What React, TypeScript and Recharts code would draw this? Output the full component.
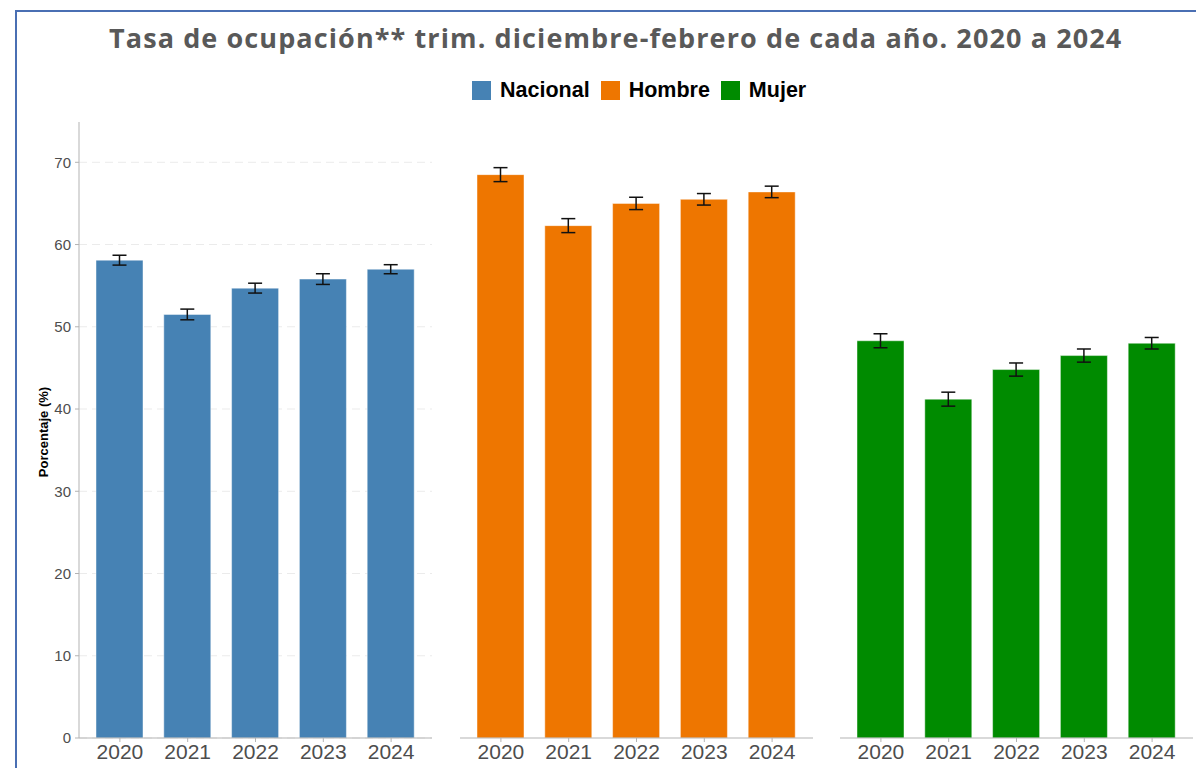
import React from "react";
import { Bar, BarChart, CartesianGrid, ErrorBar, XAxis, YAxis } from "recharts";

const years = ["2020", "2021", "2022", "2023", "2024"];
const nacional = [58.1, 51.5, 54.7, 55.8, 57.0];
const nacionalErr = [0.6, 0.65, 0.6, 0.65, 0.55];
const hombre = [68.5, 62.3, 65.0, 65.5, 66.4];
const hombreErr = [0.85, 0.85, 0.75, 0.7, 0.7];
const mujer = [48.3, 41.2, 44.8, 46.5, 48.0];
const mujerErr = [0.85, 0.85, 0.8, 0.8, 0.7];
const yTicks = [0, 10, 20, 30, 40, 50, 60, 70];

const series = [
  { name: "Nacional", color: "#4682B4", values: nacional, errs: nacionalErr },
  { name: "Hombre", color: "#EE7600", values: hombre, errs: hombreErr },
  { name: "Mujer", color: "#008B00", values: mujer, errs: mujerErr },
];

const axisFont = "'Liberation Sans', Arial, sans-serif";
const axisGray = "#b3b3b3";

function Panel({
  values,
  errs,
  color,
  showY,
  left,
  marginLeft,
  marginRight,
}: {
  values: number[];
  errs: number[];
  color: string;
  showY: boolean;
  left: number;
  marginLeft: number;
  marginRight: number;
}) {
  const data = years.map((year, i) => ({ year, value: values[i], err: errs[i] }));
  const yWidth = showY ? 79 : 0;
  return (
    <div style={{ position: "absolute", left, top: 110 }}>
      <BarChart
        width={marginLeft + yWidth + 353 + marginRight}
        height={658}
        data={data}
        margin={{ top: 12, right: marginRight, bottom: 0, left: marginLeft }}
        barSize={47}
      >
        <CartesianGrid vertical={false} syncWithTicks stroke="#ebebeb" strokeDasharray="8 5" />
        <XAxis
          dataKey="year"
          height={30}
          padding={{ left: 7, right: 7 }}
          tick={{ fontSize: 21, fill: "#4d4d4d", fontFamily: axisFont }}
          tickSize={4}
          tickMargin={2}
          tickLine={{ stroke: axisGray }}
          axisLine={{ stroke: axisGray }}
        />
        <YAxis
          width={yWidth}
          domain={[0, 74.9]}
          ticks={yTicks}
          interval={0}
          tick={showY ? { fontSize: 15, fill: "#4d4d4d", fontFamily: axisFont } : false}
          tickSize={4}
          tickMargin={4}
          tickLine={showY ? { stroke: axisGray } : false}
          axisLine={showY ? { stroke: axisGray } : false}
        />
        <Bar dataKey="value" fill={color} stroke="#ffffff" strokeOpacity={0.45} strokeWidth={1} isAnimationActive={false}>
          <ErrorBar dataKey="err" width={7} stroke="#111111" strokeWidth={1.5} direction="y" isAnimationActive={false} />
        </Bar>
      </BarChart>
    </div>
  );
}

export default function App() {
  return (
    <div
      style={{
        position: "absolute",
        left: 0,
        top: 0,
        width: 1196,
        height: 768,
        background: "#ffffff",
        overflow: "hidden",
      }}
    >
      <div
        style={{
          position: "absolute",
          left: 15,
          top: 10,
          width: 1300,
          height: 900,
          borderTop: "2px solid #4a6fb3",
          borderLeft: "2px solid #4a6fb3",
        }}
      />
      <div
        style={{
          position: "absolute",
          left: 109,
          top: 19,
          whiteSpace: "nowrap",
          fontFamily: "'Open Sans', sans-serif",
          fontWeight: 700,
          fontSize: 27,
          letterSpacing: 1.1,
          color: "#595959",
          lineHeight: "38px",
        }}
      >
        Tasa de ocupación** trim. diciembre-febrero de cada año. 2020 a 2024
      </div>
      <div
        style={{
          position: "absolute",
          left: 472,
          top: 78,
          display: "flex",
          alignItems: "center",
          fontFamily: axisFont,
          fontWeight: 700,
          fontSize: 21.5,
          color: "#000000",
          lineHeight: "24px",
        }}
      >
        {series.map((s) => (
          <div key={s.name} style={{ display: "flex", alignItems: "center", marginRight: 11 }}>
            <span style={{ display: "inline-block", width: 19, height: 19, background: s.color, marginRight: 9 }} />
            <span>{s.name}</span>
          </div>
        ))}
      </div>
      <div
        style={{
          position: "absolute",
          left: 43,
          top: 432,
          transform: "translate(-50%, -50%) rotate(-90deg)",
          whiteSpace: "nowrap",
          fontFamily: axisFont,
          fontWeight: 700,
          fontSize: 13,
          color: "#000000",
        }}
      >
        Porcentaje (%)
      </div>
      <Panel values={series[0].values} errs={series[0].errs} color={series[0].color} showY left={0} marginLeft={0} marginRight={8} />
      <Panel values={series[1].values} errs={series[1].errs} color={series[1].color} showY={false} left={452} marginLeft={8} marginRight={9} />
      <Panel values={series[2].values} errs={series[2].errs} color={series[2].color} showY={false} left={832} marginLeft={8} marginRight={3} />
    </div>
  );
}
